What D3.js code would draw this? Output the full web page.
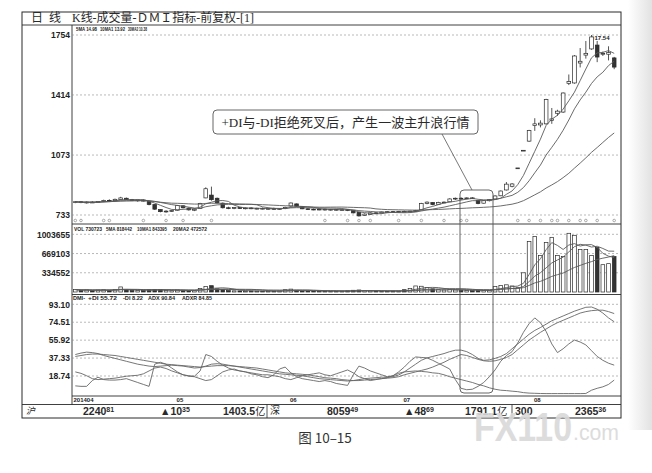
<!DOCTYPE html>
<html><head><meta charset="utf-8">
<script src="https://cdn.jsdelivr.net/npm/d3@7"></script>
<style>
body{margin:0;background:#fff}
.tk{font-family:"Liberation Sans",Arial,sans-serif;font-weight:bold;font-size:8.5px;fill:#222}
.hd{font-family:"Liberation Sans",Arial,sans-serif;font-weight:bold;font-size:6px;fill:#222}
</style>
</head><body>
<svg id="c" width="652" height="473"></svg>
<script>
// ---------------- DATA ----------------
const openP=[8.05,8.08,8.03,8.06,8.04,8.10,8.16,8.14,8.20,8.28,
 8.20,8.15,8.18,8.10,7.92,7.64,7.52,7.55,7.60,7.85,
 7.72,7.60,7.70,8.30,8.46,8.28,8.00,7.74,7.72,7.75,
 7.70,7.73,7.69,7.71,7.68,7.70,7.66,7.70,7.84,7.96,
 7.80,7.68,7.66,7.64,7.66,7.62,7.65,7.61,7.63,7.60,
 7.48,7.30,7.36,7.45,7.44,7.50,7.52,7.50,7.54,7.52,
 7.55,7.62,7.98,8.04,7.94,8.04,8.08,8.24,8.28,8.26,
 8.30,8.16,8.00,8.14,8.24,8.42,8.75,8.96,10.00,11.00,
 11.52,12.40,12.44,12.50,12.70,13.10,13.17,14.80,14.82,15.95,
 16.40,16.75,16.97,16.45,16.45,16.24];
const highP=[8.12,8.12,8.10,8.12,8.12,8.20,8.22,8.26,8.36,8.32,
 8.24,8.20,8.22,8.14,7.95,7.66,7.60,7.62,7.90,7.88,
 7.76,7.70,8.02,8.90,8.94,8.32,8.04,7.80,7.78,7.78,
 7.76,7.77,7.74,7.75,7.74,7.75,7.72,7.80,8.04,7.98,
 7.82,7.72,7.70,7.70,7.70,7.68,7.68,7.66,7.66,7.62,
 7.50,7.42,7.48,7.50,7.52,7.55,7.56,7.56,7.58,7.57,
 7.62,8.02,8.10,8.06,8.08,8.10,8.28,8.32,8.34,8.33,
 8.34,8.18,8.18,8.22,8.45,8.72,9.20,9.14,10.00,11.00,
 12.16,12.82,12.70,13.92,13.40,13.30,14.28,15.30,16.40,16.80,
 17.20,17.54,17.20,16.60,16.90,16.30];
const lowP=[8.00,8.00,7.98,8.01,8.02,8.06,8.10,8.12,8.18,8.18,
 8.12,8.08,8.10,7.88,7.62,7.48,7.46,7.50,7.58,7.70,
 7.58,7.55,7.68,8.28,8.14,7.98,7.70,7.66,7.66,7.68,
 7.65,7.66,7.64,7.65,7.63,7.64,7.62,7.66,7.80,7.80,
 7.66,7.62,7.60,7.60,7.58,7.58,7.58,7.57,7.55,7.42,
 7.24,7.28,7.34,7.40,7.42,7.46,7.47,7.46,7.49,7.48,
 7.50,7.60,7.94,7.88,7.92,8.00,8.06,8.18,8.20,8.22,
 8.24,7.94,7.98,8.10,8.22,8.40,8.72,8.90,10.00,11.00,
 11.48,12.10,12.30,12.46,12.50,12.95,13.12,14.70,14.78,15.70,
 16.20,16.70,16.00,16.35,16.10,15.60];
const closeP=[8.08,8.03,8.06,8.04,8.10,8.16,8.14,8.22,8.30,8.20,
 8.15,8.18,8.12,7.92,7.66,7.52,7.55,7.58,7.86,7.74,
 7.62,7.66,7.98,8.82,8.20,8.02,7.74,7.72,7.75,7.70,
 7.73,7.69,7.71,7.68,7.70,7.66,7.69,7.76,8.01,7.83,
 7.68,7.66,7.64,7.66,7.62,7.65,7.61,7.63,7.59,7.45,
 7.28,7.38,7.45,7.43,7.50,7.52,7.50,7.54,7.52,7.55,
 7.58,7.98,8.06,7.92,8.04,8.06,8.24,8.28,8.26,8.30,
 8.28,7.98,8.14,8.20,8.41,8.69,9.08,9.09,10.00,11.00,
 12.12,12.50,12.54,13.88,12.78,13.22,14.25,14.90,16.35,16.05,
 16.50,17.43,16.29,16.50,16.55,15.72];
const volume=[42000,30000,35000,28000,33000,38000,30000,45000,88000,40000,
 30000,26000,25000,38000,45000,40000,25000,22000,35000,30000,
 25000,22000,60000,95000,110000,55000,45000,25000,20000,18000,
 16000,18000,15000,14000,16000,15000,18000,40000,50000,30000,
 18000,15000,14000,13000,15000,14000,13000,14000,20000,30000,
 35000,22000,20000,15000,14000,13000,14000,16000,40000,60000,
 105000,100000,80000,55000,40000,35000,45000,35000,30000,28000,
 25000,30000,25000,28000,95000,115000,125000,105000,75000,334000,
 880000,968000,634000,863000,951000,634000,616000,1021000,986000,740000,
 740000,634000,775000,475000,493000,616000];
const plusDI=[23,21.5,19,16,15,15.5,16,16.5,17.5,18.5,
 19,19.5,21,24,27,28,26.5,24,22,20,
 19,18.5,24,41,39,34,30,27,25,24,
 23,21,20,18,17,20,26,28,22,18,
 16,15,14,13,14,13,11,10,9,20,
 29,27,24,22,20,18,19,23,28,34,
 38.5,38,37.5,35,32,29,26,15,6,4.5,
 5,8,12,18,25,34,40,44,53,64,
 73,79,74,65,52,43,47,52,56,54,
 51,45,39,35,32,30];
const minusDI=[8.5,8,8,14,17.5,15,14.5,14.5,15,16,
 14,12,10,8,31,33,31,27,23,20,
 18.5,18,16,14,15,19,23,25,26,24,
 23,22,21,20,20,19,18,16,15,17,
 19,20,21,22,20,19,21,23,25,22,
 18,16,14,15,16,17,19,21.5,23,23.5,
 24,23.5,23,22,21.5,20,18,16.5,15,13.5,
 12,10,8.5,6.5,5,4,3.6,3,2.5,1.5,
 1,0.8,0.6,0.5,0.5,0.5,0.5,0.5,0.5,0.5,
 0.6,4,6,7.5,10,14.5];
const adx=[41,42.5,43.5,43,42,40,38.5,37,35.5,34,
 32.5,31,30,29,28.5,29,29.5,30,29.5,29,
 28,27,27.5,29,31,31.5,31,30,29,28,
 27,26,25,24,23,22,21,20.5,20,19.5,
 19,18,17,16,15.5,15,14.5,14,13.5,14,
 15,16,16.5,17,17.5,17.5,18,19.8,23,27,
 31,35,37.5,39,40.5,42,44,45.5,45.6,44,
 41,37,35,35.5,37,39,42,47,52,57,
 62,66,69,72.5,76,78.5,81,83.5,86,88,
 90,90.3,88,84,79,75];
const adxr=[39,40,41,41.5,41.5,41,40.5,40,39,38,
 37,36,35,34,33,32,31,30.5,30,29.5,
 29,28.5,28,28.5,29,29.5,29.5,29.5,29,28.5,
 28,27.5,27,26,25,24,23,22,21.5,21,
 20.5,20,19,18,17,16.5,16,15,14.5,14,
 14,14.5,15,15.5,16,16.5,17,18,20,21.5,
 23,24.5,26,28,30.5,33,36,38.5,41,40,
 38,36,34.5,34,34.5,36,38,41,46,51,
 56,60,64,67.5,71,74,76.5,79,81.5,84,
 85.5,86.5,87,87,85.5,83.5];
const priceTicks=[17.54,14.14,10.73,7.33];
const priceTickLabels=["1754","1414","1073","733"];
const volTicks=[1003655,669103,334552];
const volTickLabels=["1003655","669103","334552"];
const dmiTicks=[93.10,74.51,55.92,37.33,18.74];
const dmiTickLabels=["93.10","74.51","55.92","37.33","18.74"];
const monthIdx=[0,18,38,58,81];
const monthLabels=["201404","05","06","07","08"];
const markerIdx=[0,1,5,6,12,16,19,24,44,48,50,52,57,61,65,68,69,78,80,82,84,85,87,89,90,92,95];
const maPeriods=[5,10,30];
const volMaPeriods=[5,10,20];

// ---------------- DRAW ----------------
const N=closeP.length;
const svg=d3.select("#c");
const FL=22, FR=621, FT=12, FB=418, PL=72;
const INK="#2a2a2a", LINE="#5a5a5a";

// page shading on right
const defs=svg.append("defs");
const gr=defs.append("linearGradient").attr("id","sh").attr("x1","0").attr("x2","1");
gr.append("stop").attr("offset","0").attr("stop-color","#fff");
gr.append("stop").attr("offset","1").attr("stop-color","#e2e2e2");
svg.append("rect").attr("x",628).attr("y",0).attr("width",24).attr("height",430).attr("fill","url(#sh)");

const x=d3.scaleBand().domain(d3.range(N)).range([72.5,617]).paddingInner(0.35).paddingOuter(0.17);
const cx=i=>x(i)+x.bandwidth()/2;
const yP=d3.scaleLinear().domain([7.33,17.54]).range([215,35]);
const yV=d3.scaleLinear().domain([0,1003655]).range([292,234.3]);
const yD=d3.scaleLinear().domain([18.74,93.10]).range([376,304.3]);

// frame
svg.append("rect").attr("x",FL).attr("y",FT).attr("width",FR-FL).attr("height",FB-FT).attr("fill","none").attr("stroke",INK).attr("stroke-width",1);
const hl=(y,x1=FL,x2=FR)=>svg.append("line").attr("x1",x1).attr("x2",x2).attr("y1",y).attr("y2",y).attr("stroke",INK).attr("stroke-width",0.9);
hl(25); hl(224,PL); hl(294.5,PL); hl(396,PL); hl(404.5);
svg.append("line").attr("x1",PL).attr("x2",PL).attr("y1",25).attr("y2",404.5).attr("stroke",INK).attr("stroke-width",0.9);
[267,512].forEach(v=>svg.append("line").attr("x1",v).attr("x2",v).attr("y1",404.5).attr("y2",FB).attr("stroke",INK).attr("stroke-width",0.8));

// title
const ttl=svg.append("g").attr("font-family","'Liberation Serif','Noto Sans CJK SC',serif").attr("font-size",12).attr("fill",INK);
ttl.append("text").attr("x",31).attr("y",21.5).text("日");
ttl.append("text").attr("x",49).attr("y",21.5).text("线");
ttl.append("text").attr("x",72).attr("y",21.5).attr("textLength",182).attr("lengthAdjust","spacingAndGlyphs").text("K线-成交量-ＤＭＩ指标-前复权-[1]");

// gridlines + axes
function grid(scale,ticks){
  svg.append("g").selectAll("line").data(ticks).join("line")
    .attr("x1",PL).attr("x2",FR).attr("y1",d=>scale(d)).attr("y2",d=>scale(d))
    .attr("stroke","#8a8a8a").attr("stroke-width",0.6).attr("stroke-dasharray","2,2");
}
function axis(scale,ticks,labels){
  const ax=d3.axisLeft(scale).tickValues(ticks).tickFormat((d,i)=>labels[i]).tickSize(0).tickPadding(2);
  const g=svg.append("g").attr("transform",`translate(${PL},0)`).call(ax);
  g.select(".domain").remove();
  g.selectAll("text").attr("class","tk").attr("font-family",null).attr("font-size",null).attr("fill",null);
}
grid(yP,priceTicks); grid(yV,volTicks); grid(yD,dmiTicks);
axis(yP,priceTicks,priceTickLabels); axis(yV,volTicks,volTickLabels); axis(yD,dmiTickLabels.map((_,i)=>dmiTicks[i]),dmiTickLabels);

// moving averages
const ma=(arr,n)=>arr.map((_,i)=>d3.mean(arr.slice(Math.max(0,i-n+1),i+1)));

// candles
const cg=svg.append("g");
const up=i=>closeP[i]>=openP[i];
cg.selectAll("line.w").data(d3.range(N)).join("line")
  .attr("x1",cx).attr("x2",cx).attr("y1",i=>yP(highP[i])).attr("y2",i=>yP(lowP[i]))
  .attr("stroke",INK).attr("stroke-width",0.8);
cg.selectAll("rect").data(d3.range(N)).join("rect")
  .attr("x",i=>x(i)).attr("width",x.bandwidth())
  .attr("y",i=>yP(Math.max(openP[i],closeP[i])))
  .attr("height",i=>Math.max(0.8,Math.abs(yP(openP[i])-yP(closeP[i]))))
  .attr("fill",i=>up(i)?"#fff":"#333").attr("stroke",INK).attr("stroke-width",0.7);
const lineP=d3.line().x((d,i)=>cx(i)).y(d=>yP(d));
maPeriods.forEach(p=>svg.append("path").attr("d",lineP(ma(closeP,p))).attr("fill","none").attr("stroke",LINE).attr("stroke-width",0.9));
// event markers
svg.append("g").selectAll("circle").data(markerIdx).join("circle")
  .attr("cx",cx).attr("cy",220.5).attr("r",1.3).attr("fill","#fff").attr("stroke","#777").attr("stroke-width",0.6);
// peak label
const pk=d3.maxIndex(highP);
svg.append("line").attr("x1",cx(pk)).attr("x2",cx(pk)+3).attr("y1",yP(highP[pk])+0.5).attr("y2",yP(highP[pk])+3).attr("stroke","#555").attr("stroke-width",0.6);
svg.append("text").attr("class","hd").attr("x",cx(pk)+3).attr("y",yP(highP[pk])+5).attr("font-size",6.5).text(highP[pk].toFixed(2));

// volume
svg.append("g").selectAll("rect").data(d3.range(N)).join("rect")
  .attr("x",i=>x(i)).attr("width",x.bandwidth())
  .attr("y",i=>yV(volume[i])).attr("height",i=>Math.max(0.6,yV(0)-yV(volume[i])))
  .attr("fill",i=>up(i)?"#fff":"#333").attr("stroke",INK).attr("stroke-width",0.7);
const lineV=d3.line().x((d,i)=>cx(i)).y(d=>yV(d));
volMaPeriods.forEach(p=>svg.append("path").attr("d",lineV(ma(volume,p))).attr("fill","none").attr("stroke",LINE).attr("stroke-width",0.9));

// DMI
const lineD=d3.line().x((d,i)=>cx(i)).y(d=>yD(d));
[plusDI,minusDI,adx,adxr].forEach(s=>svg.append("path").attr("d",lineD(s)).attr("fill","none").attr("stroke","#666").attr("stroke-width",0.9));

// panel headers
function hdr(items,y){items.forEach(([t,x0,len])=>svg.append("text").attr("class","hd").attr("x",x0).attr("y",y).attr("textLength",len).attr("lengthAdjust","spacingAndGlyphs").text(t));}
hdr([["5MA 14.98",76,21],["10MA1 13.92",100,25],["30MA2 10.38",128,19]],30.5);
hdr([["VOL 730723",74,28],["5MA 818442",106,26],["10MA1 843395",137,30],["20MA2 472572",173,34]],230.5);
hdr([["DMI-",73,12],["+DI 55.72",88,29],["-DI 8.22",123,20],["ADX 90.84",148,27],["ADXR 84.85",182,30]],299.5);

// date labels
svg.append("g").selectAll("text").data(monthIdx).join("text").attr("class","hd")
  .attr("x",i=>x(i)+(i===0?0:1)).attr("y",402).attr("font-size",5.5).text((d,k)=>monthLabels[k]);

// annotation
svg.append("rect").attr("x",460).attr("y",190).attr("width",33).attr("height",203).attr("rx",4)
  .attr("fill","none").attr("stroke","#555").attr("stroke-width",0.9);
svg.append("line").attr("x1",442).attr("y1",134).attr("x2",472).attr("y2",190).attr("stroke","#555").attr("stroke-width",0.8);
svg.append("rect").attr("x",213).attr("y",110).attr("width",265).attr("height",24).attr("rx",4)
  .attr("fill","#fff").attr("stroke","#555").attr("stroke-width",0.9);
svg.append("text").attr("x",345.5).attr("y",127).attr("text-anchor","middle")
  .attr("font-family","'Liberation Serif','Noto Sans CJK SC',serif").attr("font-size",13).attr("fill",INK)
  .attr("textLength",248).attr("lengthAdjust","spacingAndGlyphs")
  .text("+DI与-DI拒绝死叉后，产生一波主升浪行情");

// stats row
const st=svg.append("g").attr("font-family","'Liberation Sans',Arial,sans-serif").attr("font-weight","bold").attr("font-size",10.5).attr("fill",INK);
function stat(x0,big,small,suffix){
  const t=st.append("text").attr("x",x0).attr("y",414.5);
  t.append("tspan").text(big);
  if(small) t.append("tspan").attr("font-size",7).attr("dy",-2.5).text(small);
  if(suffix) t.append("tspan").attr("font-weight","normal").attr("font-family","'Noto Sans CJK SC',sans-serif").attr("font-size",10).attr("dy",small?2.5:0).text(suffix);
}
st.append("text").attr("x",26).attr("y",414).attr("font-family","'Noto Sans CJK SC',sans-serif").attr("font-weight","normal").attr("font-style","italic").attr("font-size",9).text("沪");
stat(83,"2240","81");
stat(160,"▲10","35");
stat(223,"1403.5","","亿");
st.append("text").attr("x",270).attr("y",414).attr("font-family","'Noto Sans CJK SC',sans-serif").attr("font-weight","normal").attr("font-size",10).text("深");
stat(327,"8059","49");
stat(404,"▲48","69");
stat(465,"1791.1","","亿");
stat(515,"300","");
stat(575,"2365","36");

// watermark
const wm=svg.append("g").attr("fill","#d9d9d9").attr("opacity",0.9).attr("font-family","'Liberation Sans',Arial,sans-serif");
wm.append("text").attr("x",474).attr("y",441).attr("font-size",40).attr("font-weight","bold").attr("textLength",98).attr("lengthAdjust","spacingAndGlyphs").text("FX110");
wm.append("text").attr("x",573).attr("y",440).attr("font-size",22).attr("textLength",46).attr("lengthAdjust","spacingAndGlyphs").text(".com");

// caption
svg.append("text").attr("x",325).attr("y",443).attr("text-anchor","middle")
  .attr("font-family","'Noto Sans CJK SC',sans-serif").attr("font-size",13.5).attr("fill","#333").text("图 10–15");
</script>
</body></html>
